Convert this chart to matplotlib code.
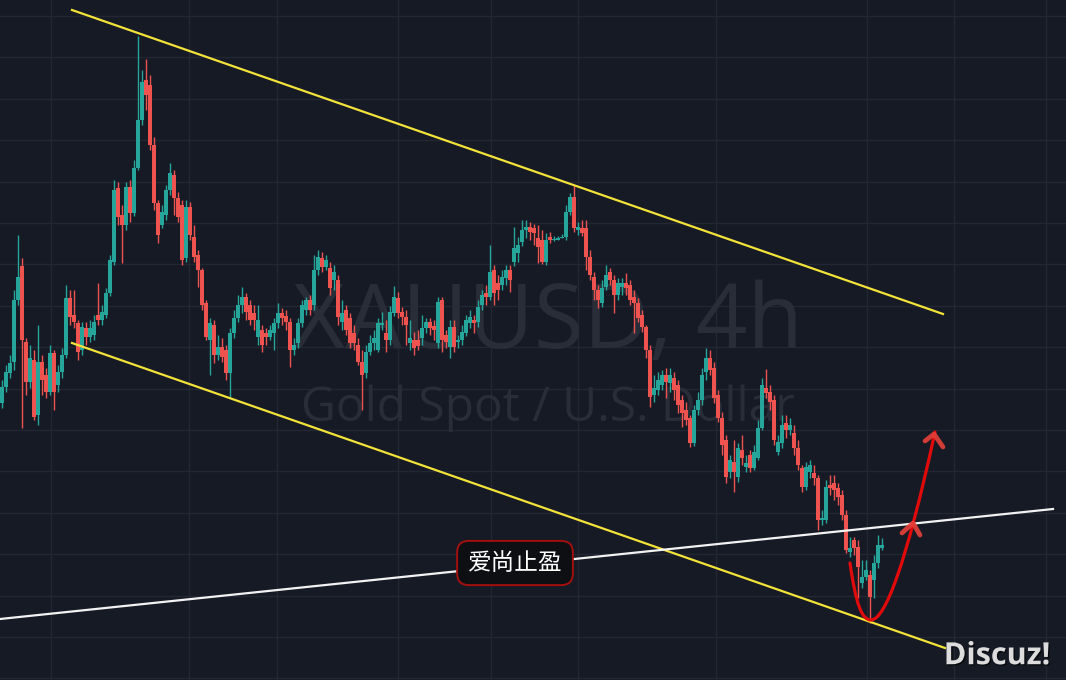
"""
## XAUUSD 4h candle chart with descending channel and target sketch.
"""

## Import relevant modules and functions
import numpy as np
import matplotlib
matplotlib.use('Agg')
import matplotlib.pyplot as plt
import matplotlib.patheffects as pe
from matplotlib.path import Path
from matplotlib.patches import PathPatch

## Candle data, one bar per 4h step (price units).
opens = [
 1697,1713,1727,1738,1800,1834,1758,1718,1740,1685,
 1738,1725,1708,1747,1715,1728,1745,1802,1785,1777,
 1750,1772,1763,1765,1785,1780,1785,1807,1838,1912,
 1885,1875,1913,1887,1932,1980,2020,2015,1955,1897,
 1875,1885,1910,1925,1902,1895,1842,1893,1863,1845,
 1830,1797,1760,1775,1745,1753,1750,1727,1767,1782,
 1795,1803,1795,1787,1763,1770,1767,1763,1767,1777,
 1787,1784,1778,1750,1757,1777,1790,1800,1795,1830,
 1842,1833,1832,1820,1820,1778,1790,1782,1767,1755,
 1738,1727,1748,1757,1750,1775,1767,1760,1787,1802,
 1788,1783,1757,1760,1760,1762,1772,1778,1774,1757,
 1800,1765,1753,1773,1758,1760,1767,1777,1780,1778,
 1795,1807,1803,1830,1817,1815,1822,1830,1838,1847,
 1858,1870,1873,1872,1862,1860,1838,1863,1860,1860,
 1862,1863,1888,1903,1870,1872,1872,1843,1823,1810,
 1797,1813,1828,1820,1805,1813,1817,1815,1803,1797,
 1785,1773,1750,1705,1710,1715,1725,1717,1722,1715,
 1700,1690,1682,1657,1690,1700,1728,1742,1732,1705,
 1682,1660,1628,1638,1623,1650,1633,1645,1632,1642,
 1672,1712,1708,1700,1648,1657,1677,1670,1667,1652,
 1632,1613,1628,1627,1622,1580,1580,1615,1617,1612,
 1605,1585,1548,1560,1553,1517,1523,1525,1520,1537,1552]

highs = [
 1720,1735,1745,1810,1865,1842,1762,1755,1750,1775,
 1745,1732,1755,1750,1735,1752,1815,1810,1810,1780,
 1778,1778,1780,1785,1817,1795,1812,1845,1920,1918,
 1895,1918,1920,1940,2064,2030,2041,2025,1963,1900,
 1895,1915,1937,1930,1908,1900,1900,1898,1875,1850,
 1832,1800,1782,1780,1765,1762,1755,1772,1790,1805,
 1813,1807,1800,1795,1795,1775,1772,1775,1782,1797,
 1792,1790,1782,1762,1782,1800,1803,1805,1845,1850,
 1848,1845,1838,1835,1825,1800,1795,1787,1775,1762,
 1750,1755,1765,1770,1782,1788,1780,1794,1814,1808,
 1793,1790,1780,1768,1770,1785,1782,1782,1780,1803,
 1803,1770,1780,1780,1765,1775,1785,1790,1785,1800,
 1810,1815,1855,1835,1825,1830,1835,1835,1873,1863,
 1880,1880,1878,1876,1875,1870,1867,1868,1864,1864,
 1866,1895,1907,1915,1878,1880,1880,1850,1828,1815,
 1820,1835,1832,1825,1822,1822,1827,1820,1810,1802,
 1790,1775,1755,1725,1728,1730,1732,1732,1728,1720,
 1705,1698,1685,1695,1708,1732,1752,1750,1738,1710,
 1688,1665,1645,1660,1657,1665,1645,1650,1655,1680,
 1722,1731,1715,1705,1665,1685,1685,1682,1675,1660,
 1635,1638,1640,1635,1625,1590,1620,1625,1625,1617,
 1610,1590,1563,1563,1560,1540,1540,1530,1545,1565,1562]

lows = [
 1692,1708,1722,1730,1795,1672,1705,1712,1680,1675,
 1705,1702,1705,1690,1708,1722,1742,1775,1772,1740,
 1745,1755,1758,1760,1775,1775,1782,1804,1835,1875,
 1837,1870,1878,1884,1930,1975,1990,1950,1890,1857,
 1872,1880,1905,1885,1878,1835,1838,1860,1838,1813,
 1790,1760,1725,1737,1740,1738,1720,1702,1762,1778,
 1787,1780,1775,1770,1755,1748,1755,1760,1750,1772,
 1775,1770,1733,1745,1752,1773,1785,1785,1790,1825,
 1828,1830,1805,1810,1775,1770,1765,1752,1750,1735,
 1690,1722,1745,1750,1748,1770,1748,1755,1784,1782,
 1775,1755,1750,1745,1750,1755,1767,1765,1760,1752,
 1748,1752,1742,1748,1752,1755,1764,1772,1767,1773,
 1790,1795,1800,1795,1800,1810,1815,1808,1834,1838,
 1854,1862,1860,1855,1837,1836,1835,1857,1859,1860,
 1862,1860,1885,1868,1865,1864,1830,1820,1800,1792,
 1793,1810,1815,1787,1800,1805,1805,1795,1767,1778,
 1768,1742,1693,1698,1705,1710,1702,1708,1700,1687,
 1673,1675,1653,1654,1685,1695,1720,1725,1697,1678,
 1645,1617,1622,1608,1618,1635,1628,1628,1630,1640,
 1670,1702,1690,1655,1645,1652,1662,1665,1645,1630,
 1608,1610,1622,1615,1570,1575,1577,1605,1600,1595,
 1580,1547,1543,1545,1502,1512,1520,1477,1502,1532,1550]

closes = [
 1713,1728,1737,1800,1823,1760,1718,1742,1683,1738,
 1720,1708,1747,1708,1728,1745,1802,1783,1778,1748,
 1773,1763,1772,1778,1780,1788,1807,1840,1910,1883,
 1875,1913,1887,1932,1980,2018,2005,1955,1897,1865,
 1888,1910,1927,1902,1883,1840,1893,1865,1843,1830,
 1795,1763,1777,1745,1753,1743,1727,1767,1782,1795,
 1803,1788,1780,1780,1780,1755,1763,1770,1777,1787,
 1782,1778,1750,1755,1777,1795,1800,1790,1830,1843,
 1833,1840,1812,1828,1783,1787,1770,1757,1757,1738,
 1725,1748,1757,1762,1777,1777,1760,1788,1803,1787,
 1783,1775,1762,1752,1754,1772,1778,1772,1770,1798,
 1760,1758,1773,1753,1760,1768,1780,1783,1777,1793,
 1805,1803,1828,1807,1810,1823,1830,1820,1852,1855,
 1870,1873,1868,1867,1853,1838,1860,1860,1861,1862,
 1863,1888,1903,1872,1873,1867,1843,1825,1810,1800,
 1812,1825,1820,1805,1817,1817,1812,1800,1797,1782,
 1773,1750,1703,1712,1720,1725,1718,1725,1710,1695,
 1687,1680,1657,1690,1700,1725,1742,1730,1702,1682,
 1655,1623,1640,1628,1652,1642,1637,1632,1648,1672,
 1715,1707,1698,1660,1658,1675,1670,1675,1652,1635,
 1613,1633,1635,1622,1580,1582,1613,1612,1610,1603,
 1585,1550,1552,1552,1533,1523,1530,1503,1537,1555,1555]

## Drawn objects: (bar index, price) end points.
upper_chan = ([17.5, 235.25], [2090, 1786])
lower_chan = ([17.5, 235.75], [1757, 1452])
neck_line  = ([-0.5, 262.75], [1481, 1591])

## Red sketch curve, Bezier nodes and arrow heads.
curve_pts = [(212.0, 1537), (213.5, 1495), (215.0, 1480), (217.25, 1480),
             (220.75, 1480), (226.0, 1535), (233.25, 1668)]
arrow_mid = ([225.0, 227.75, 229.5], [1567, 1577, 1565])
arrow_end = ([230.75, 233.0, 235.25], [1659, 1666, 1653])

## Time-axis grid positions (bar index).
grid_idx = [12.25, 46.75, 68.75, 99.0, 122.25, 144.0, 178.5, 216.25, 238.0, 261.0]

def main():

## Colours used on the dark theme.
    bgcol = '#161A25'
    upcol = '#26A69A'
    dncol = '#EF5350'
    wmcol = '#292D38'

    fig = plt.figure(figsize=(10.66, 6.8), dpi=100)
    fig.patch.set_facecolor(bgcol)
    ax = fig.add_axes([0, 0, 1, 1])
    ax.set_facecolor(bgcol)
    ax.set_xlim(-0.5, 266.0)
    ax.set_ylim(1420, 2100)
    for sp in ax.spines.values():
        sp.set_visible(False)

## Grid only, no labels.
    ax.set_xticks(grid_idx)
    ax.set_yticks(np.arange(2084, 1420, -41.4))
    ax.tick_params(length=0, labelbottom=False, labelleft=False)
    ax.grid(True, color='#232734', lw=1.0, zorder=0)
    ax.set_axisbelow(True)

## Watermark symbol texts.
    ax.text(136.5, 1752, 'XAUUSD, 4h', ha='center', va='baseline',
            fontsize=65, color=wmcol, family='Open Sans', zorder=1)
    ax.text(136.5, 1679, 'Gold Spot / U.S. Dollar', ha='center', va='baseline',
            fontsize=34.5, color=wmcol, family='Open Sans', zorder=1)

## Candles: wicks then bodies.
    o = np.array(opens, dtype=float)
    h = np.array(highs, dtype=float)
    l = np.array(lows, dtype=float)
    c = np.array(closes, dtype=float)
    idx = np.arange(len(c))
    cols = np.where(c >= o, upcol, dncol)
    ax.vlines(idx, l, h, colors=cols, lw=1.0, zorder=2)
    ax.bar(idx, np.maximum(np.abs(c - o), 1.0), bottom=np.minimum(o, c),
           width=0.78, color=cols, lw=0, zorder=3)

## Channel and neck lines.
    ax.plot(*upper_chan, color='#F3E23A', lw=1.6, zorder=4)
    ax.plot(*lower_chan, color='#F3E23A', lw=1.6, zorder=4)
    ax.plot(*neck_line, color='#F2F2F2', lw=1.6, zorder=4)

## Red rebound sketch.
    codes = [Path.MOVETO] + [Path.CURVE4] * 6
    ax.add_patch(PathPatch(Path(curve_pts, codes), fill=False,
                 edgecolor='#E00A0A', lw=2.3, capstyle='round', zorder=5))
    for arw in (arrow_mid, arrow_end):
        ax.plot(*arw, color='#E8403A', lw=3.4, alpha=0.9,
                solid_capstyle='round', solid_joinstyle='round', zorder=5)

## Label box.
    ax.text(128.25, 1537, '爱尚止盈', ha='center', va='center', fontsize=17,
            color='white', family=['Noto Sans CJK SC', 'DejaVu Sans'], zorder=6,
            bbox=dict(boxstyle='round,pad=0.45,rounding_size=0.5',
                      fc='#0E0F13', ec='#A30F0F', lw=1.4))

## Forum watermark.
    fig.text(0.985, 0.035, 'Discuz!', ha='right', va='center', fontsize=22,
             fontweight='bold', color='#DCDCDC', family='Open Sans',
             path_effects=[pe.withSimplePatchShadow(offset=(1, -1),
                           shadow_rgbFace='black', alpha=0.6)])

    fig.savefig('out.png', dpi=100, facecolor=bgcol)

if __name__ == '__main__':
    main()
